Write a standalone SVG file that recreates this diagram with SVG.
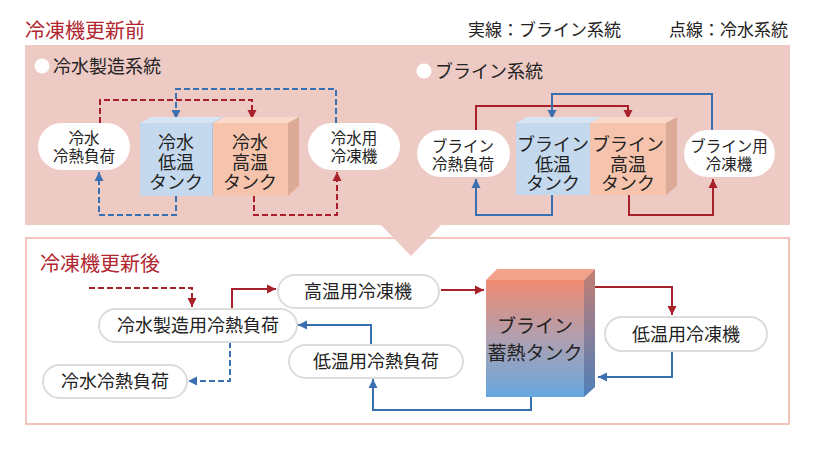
<svg xmlns="http://www.w3.org/2000/svg" width="820" height="451" viewBox="0 0 820 451">
<style>
text{font-family:"Noto Sans CJK JP","Noto Sans",sans-serif;fill:#222;}
.title{font-size:20px;fill:#b0262e;}
.leg{font-size:17px;}
.sub{font-size:18px;}
.pl{font-size:15.5px;text-anchor:middle;}
.tk{font-size:18px;text-anchor:middle;}
.bl{font-size:18px;text-anchor:middle;}
.wp{fill:#fff;}
.gp{fill:#fff;stroke:#dcdcdc;stroke-width:2;}
.r{fill:none;stroke:#a8202a;stroke-width:2;}
.b{fill:none;stroke:#3a70b0;stroke-width:2;}
.d{stroke-dasharray:6 3;}
</style>
<defs>
<marker id="ar" markerUnits="userSpaceOnUse" markerWidth="10" markerHeight="10" refX="9" refY="5" orient="auto"><path d="M0,0.5 L9,5 L0,9.5 z" fill="#a8202a"/></marker>
<marker id="ab" markerUnits="userSpaceOnUse" markerWidth="10" markerHeight="10" refX="9" refY="5" orient="auto"><path d="M0,0.5 L9,5 L0,9.5 z" fill="#3a70b0"/></marker>
<linearGradient id="gf" x1="0" y1="0" x2="0" y2="1"><stop offset="0" stop-color="#ef8a70"/><stop offset="0.5" stop-color="#b0a0b0"/><stop offset="1" stop-color="#66a8df"/></linearGradient>
<linearGradient id="gs" x1="0" y1="0" x2="0" y2="1"><stop offset="0" stop-color="#c47e70"/><stop offset="0.5" stop-color="#8a7e98"/><stop offset="1" stop-color="#4f80b8"/></linearGradient>
</defs>
<rect width="820" height="451" fill="#fff"/>
<!-- bottom panel -->
<rect x="26" y="238" width="763" height="186" fill="#fff" stroke="#f2c4bc" stroke-width="2"/>
<!-- top panel -->
<rect x="25" y="45" width="765" height="180" fill="#eecac5"/>
<polygon points="380,224 442,224 411,256" fill="#eecac5"/>
<text class="title" x="25" y="38">冷凍機更新前</text>
<text class="leg" x="468" y="36">実線：ブライン系統</text>
<text class="leg" x="788" y="36" text-anchor="end">点線：冷水系統</text>
<circle cx="42" cy="66" r="7.5" fill="#fff"/>
<text class="sub" x="53" y="73">冷水製造系統</text>
<circle cx="424" cy="71" r="7.5" fill="#fff"/>
<text class="sub" x="435" y="78">ブライン系統</text>

<g id="connectors">
<path class="r d" d="M100,123 V100 H252 V119" marker-end="url(#ar)"/>
<path class="b d" d="M336,123 V89 H176 V119" marker-end="url(#ab)"/>
<path class="b d" d="M176,196 V215 H99 V172" marker-end="url(#ab)"/>
<path class="r d" d="M254,196 V215 H337 V172" marker-end="url(#ar)"/>
<path class="r" d="M476,130 V106 H628 V119" marker-end="url(#ar)"/>
<path class="b" d="M712,130 V94 H552 V119" marker-end="url(#ab)"/>
<path class="b" d="M552,195 V215 H476 V179" marker-end="url(#ab)"/>
<path class="r" d="M629,195 V215 H713 V179" marker-end="url(#ar)"/>
<path class="r d" d="M89,288 H192 V307" marker-end="url(#ar)"/>
<path class="r" d="M232,309 V289 H276" marker-end="url(#ar)"/>
<path class="r" d="M441,290 H484" marker-end="url(#ar)"/>
<path class="r" d="M595,287 H672 V315" marker-end="url(#ar)"/>
<path class="b" d="M672,351 V377 H598" marker-end="url(#ab)"/>
<path class="b" d="M531,397 V410 H373 V379" marker-end="url(#ab)"/>
<path class="b" d="M371,345 V325 H298" marker-end="url(#ab)"/>
<path class="b d" d="M230,342 V381 H188" marker-end="url(#ab)"/>
</g>

<g id="n-reikan-load">
<rect class="wp" x="38" y="123" width="92" height="47" rx="23.5"/>
<text class="pl" x="84" y="144">冷水</text>
<text class="pl" x="84" y="162">冷熱負荷</text>
</g>
<g id="n-reisui-low">
<polygon points="140,123 151,117 223,117 212,123" fill="#d6e5f4"/>
<polygon points="212,123 223,117 223,190 212,196" fill="#a9c3df"/>
<rect x="140" y="123" width="72" height="73" fill="#c5d9ee"/>
<text class="tk" x="176" y="149">冷水</text>
<text class="tk" x="176" y="169">低温</text>
<text class="tk" x="176" y="189">タンク</text>
</g>
<g id="n-reisui-high">
<polygon points="213,123 224,117 299,117 288,123" fill="#fbd8c8"/>
<polygon points="288,123 299,117 299,186 288,196" fill="#dcab98"/>
<rect x="213" y="123" width="75" height="73" fill="#f6c4ac"/>
<text class="tk" x="250" y="149">冷水</text>
<text class="tk" x="250" y="169">高温</text>
<text class="tk" x="250" y="189">タンク</text>
</g>
<g id="n-reisui-chiller">
<rect class="wp" x="308" y="123" width="92" height="47" rx="23.5"/>
<text class="pl" x="354" y="144">冷水用</text>
<text class="pl" x="354" y="162">冷凍機</text>
</g>

<g id="n-brine-load">
<rect class="wp" x="417" y="130" width="93" height="47" rx="23.5"/>
<text class="pl" x="463" y="152">ブライン</text>
<text class="pl" x="463" y="170">冷熱負荷</text>
</g>
<g id="n-brine-low">
<polygon points="516,123 527,117 601,117 590,123" fill="#d6e5f4"/>
<polygon points="590,123 601,117 601,190 590,195" fill="#a9c3df"/>
<rect x="516" y="123" width="74" height="72" fill="#c5d9ee"/>
<text class="tk" x="553" y="151">ブライン</text>
<text class="tk" x="553" y="171">低温</text>
<text class="tk" x="553" y="190">タンク</text>
</g>
<g id="n-brine-high">
<polygon points="590,123 601,117 677,117 666,123" fill="#fbd8c8"/>
<polygon points="666,123 677,117 677,186 666,195" fill="#dcab98"/>
<rect x="590" y="123" width="76" height="72" fill="#f6c4ac"/>
<text class="tk" x="628" y="151">ブライン</text>
<text class="tk" x="628" y="171">高温</text>
<text class="tk" x="628" y="190">タンク</text>
</g>
<g id="n-brine-chiller">
<rect class="wp" x="684" y="130" width="91" height="47" rx="23.5"/>
<text class="pl" x="729" y="152">ブライン用</text>
<text class="pl" x="729" y="170">冷凍機</text>
</g>

<text class="title" x="40" y="271">冷凍機更新後</text>
<g id="n-high-chiller">
<rect class="gp" x="278" y="275" width="161" height="33" rx="16.5"/>
<text class="bl" x="358" y="298">高温用冷凍機</text>
</g>
<g id="n-seizo-load">
<rect class="gp" x="99" y="309" width="198" height="33" rx="16.5"/>
<text class="bl" x="198" y="332">冷水製造用冷熱負荷</text>
</g>
<g id="n-reisui-load2">
<rect class="gp" x="43" y="365" width="144" height="33" rx="16.5"/>
<text class="bl" x="115" y="388">冷水冷熱負荷</text>
</g>
<g id="n-low-load">
<rect class="gp" x="289" y="345" width="174" height="33" rx="16.5"/>
<text class="bl" x="376" y="368">低温用冷熱負荷</text>
</g>
<g id="n-low-chiller">
<rect class="gp" x="605" y="317" width="162" height="34" rx="17"/>
<text class="bl" x="686" y="341">低温用冷凍機</text>
</g>
<g id="n-storage-tank">
<polygon points="486,280 497,269 595,269 584,280" fill="#f3a28c"/>
<polygon points="584,280 595,269 595,387 584,397" fill="url(#gs)"/>
<rect x="486" y="280" width="98" height="117" fill="url(#gf)"/>
<text class="tk" x="535" y="333" style="font-size:19px">ブライン</text>
<text class="tk" x="535" y="360" style="font-size:19px">蓄熱タンク</text>
</g>
</svg>
